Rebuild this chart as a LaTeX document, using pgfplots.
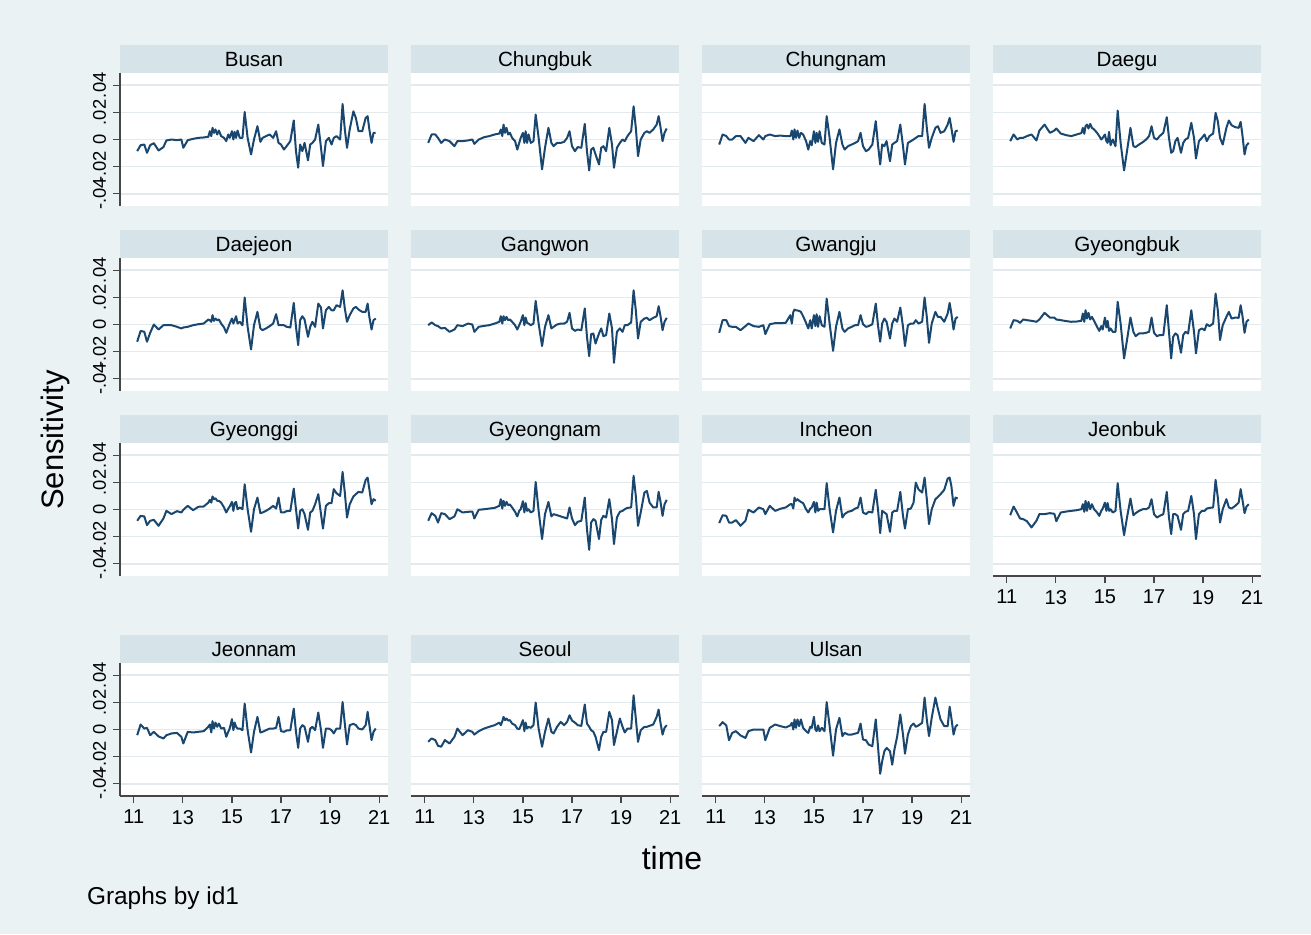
\documentclass[border=0pt]{standalone}
\usepackage{fontspec}
\setmainfont{Liberation Sans}
\usepackage{pgfplots}
\usepackage{pgfplotstable}
\pgfplotsset{compat=1.18}
\definecolor{bgc}{RGB}{234,242,243}
\definecolor{barc}{RGB}{214,227,232}
\definecolor{gridc}{RGB}{226,234,237}
\definecolor{linec}{RGB}{26,71,111}
\definecolor{axc}{RGB}{70,70,70}

\pgfplotstableread{
t Bu Cb Cn Dg Dj Gw Gj Gb Gg Gn Ic Jb Jn Se Us
11.14 -0.0086 -0.0025 -0.0037 -0.0012 -0.0127 -0.0005 -0.0061 -0.0029 -0.0083 -0.0083 -0.0100 -0.0042 -0.0042 -0.0091 0.0025
11.28 -0.0042 0.0037 0.0037 0.0037 -0.0047 0.0015 0.0032 0.0032 -0.0047 -0.0027 -0.0042 0.0022 0.0037 -0.0066 0.0054
11.43 -0.0037 0.0037 0.0025 0 -0.0054 -0.0005 0.0032 0.0027 -0.0051 -0.0047 -0.0047 -0.0027 0.0007 -0.0078 0.0030
11.54 -0.0098 0.0012 0 0.0012 -0.0127 -0.0012 -0.0012 0.0012 -0.0115 -0.0096 -0.0096 -0.0066 0.0012 -0.0120 -0.0079
11.67 -0.0042 -0.0025 0 0.0012 -0.0061 -0.0029 -0.0017 0.0037 -0.0083 -0.0027 -0.0096 -0.0071 -0.0042 -0.0127 -0.0025
11.82 -0.0027 0 0.0025 0.0025 0 -0.0025 -0.0017 0.0032 -0.0076 -0.0034 -0.0078 -0.0086 -0.0017 -0.0078 -0.0012
12.01 -0.0081 -0.0012 0.0025 0.0037 -0.0037 -0.0054 -0.0042 0.0027 -0.0120 -0.0071 -0.0120 -0.0132 -0.0051 -0.0103 -0.0044
12.21 -0.0056 -0.0049 -0.0025 -0.0007 -0.0005 -0.0037 -0.0012 0.0020 -0.0066 -0.0051 -0.0083 -0.0083 -0.0066 -0.0054 -0.0062
12.33 -0.0007 -0.0012 0.0012 0.0066 -0.0005 -0.0005 0.0007 0.0037 -0.0010 0.0002 -0.0002 -0.0034 -0.0042 0.0007 -0.0012
12.54 0 -0.0012 -0.0012 0.0110 -0.0005 -0.0012 -0.0012 0.0086 -0.0034 -0.0022 -0.0022 -0.0034 -0.0029 -0.0042 0
12.76 -0.0005 -0.0007 0.0032 0.0049 -0.0017 0.0007 -0.0017 0.0051 -0.0012 -0.0017 0.0015 -0.0027 -0.0025 -0.0005 0
12.94 0 0 0 0.0066 -0.0029 0 -0.0005 0.0051 -0.0022 -0.0015 0.0002 -0.0032 -0.0054 -0.0017 0
13.02 -0.0061 -0.0032 0.0025 0.0081 -0.0022 -0.0054 -0.0071 0.0037 -0.0002 -0.0066 -0.0034 -0.0086 -0.0103 -0.0037 -0.0079
13.20 -0.0005 0 0.0037 0.0044 -0.0017 -0.0017 0.0002 0.0032 0.0027 -0.0002 0.0027 -0.0022 -0.0017 -0.0012 0.0012
13.42 0.0005 0.0017 0.0025 0.0032 -0.0005 -0.0010 0.0010 0.0025 -0.0005 0.0002 -0.0010 -0.0015 -0.0022 0.0007 0.0037
13.63 0.0012 0.0025 0.0029 0.0025 0.0002 -0.0005 0.0010 0.0020 0.0020 0.0007 0.0005 -0.0010 -0.0017 0.0020 0.0025
13.85 0.0015 0.0037 0.0025 0.0037 0.0007 0.0007 0.0012 0.0022 0.0022 0.0012 0.0015 -0.0005 -0.0012 0.0032 0.0015
14.04 0.0020 0.0044 0.0025 0.0047 0.0037 0.0020 0.0069 0.0027 0.0051 0.0027 0.0039 0.0002 0.0020 0.0051 0.0030
14.10 0.0061 0.0074 0.0066 0.0086 0.0032 0.0061 0.0007 0.0081 0.0071 0.0076 0.0039 0.0039 0.0037 0.0032 0.0049
14.16 0.0025 0.0025 0 0.0042 0.0020 0.0007 0.0093 0.0020 0.0051 0.0007 0.0007 -0.0017 -0.0022 0.0061 0
14.21 0.0086 0.0110 0.0074 0.0098 0.0069 0.0061 0.0110 0.0105 0.0096 0.0064 0.0088 0.0064 0.0061 0.0093 0.0074
14.27 0.0049 0.0049 0.0012 0.0110 0.0027 0.0032 0.0105 0.0044 0.0076 0.0027 0.0064 -0.0010 0.0007 0.0069 0.0012
14.33 0.0074 0.0086 0.0066 0.0081 0.0044 0.0056 0.0103 0.0086 0.0083 0.0056 0.0076 0.0056 0.0051 0.0081 0.0074
14.40 0.0037 0.0037 0.0012 0.0115 0.0032 0.0032 0.0100 0.0037 0.0064 0.0032 0.0064 0.0002 0.0020 0.0066 0.0025
14.47 0.0066 0.0049 0.0049 0.0086 0.0037 0.0037 0.0093 0.0056 0.0064 0.0037 0.0056 0.0039 0.0044 0.0069 0.0074
14.56 0.0025 0.0012 0.0037 0.0074 0.0007 0.0020 0.0061 0.0027 0.0051 0.0015 0.0047 0.0002 0.0007 0.0044 0.0012
14.68 0.0012 -0.0012 -0.0012 0.0049 -0.0022 -0.0005 0.0012 -0.0017 0.0015 -0.0017 0.0002 -0.0022 0.0012 0.0032 -0.0012
14.77 -0.0012 -0.0074 -0.0074 0.0025 -0.0061 -0.0037 -0.0029 -0.0047 -0.0022 -0.0051 -0.0022 -0.0047 -0.0054 0.0007 -0.0025
14.85 0.0037 -0.0025 -0.0012 0 -0.0022 -0.0005 0.0032 -0.0012 0.0007 -0.0010 0.0007 -0.0010 -0.0017 0.0002 0.0020
14.91 0.0012 0.0012 -0.0042 0.0012 0.0007 0.0020 -0.0029 -0.0037 0.0022 0.0002 0.0015 0.0007 0.0007 0.0027 0.0012
15.00 0.0061 0.0049 0.0061 0.0037 0.0044 0.0069 0.0069 0.0051 0.0056 0.0061 0.0056 0.0051 0.0076 0.0069 0.0094
15.06 0 -0.0025 -0.0025 -0.0012 0.0007 -0.0005 -0.0012 -0.0022 -0.0010 -0.0022 -0.0022 -0.0010 -0.0005 -0.0012 0
15.11 0.0056 0.0061 0.0049 -0.0025 0.0032 0.0051 0.0076 0.0027 0.0047 0.0047 0.0051 0.0047 0.0051 0.0051 -0.0012
15.17 0.0012 -0.0025 -0.0017 0.0056 0.0061 0.0012 -0.0017 -0.0047 0.0056 -0.0010 -0.0010 -0.0010 0.0020 0.0007 0.0030
15.23 0.0066 0.0037 0.0061 -0.0042 0.0007 0.0007 0.0061 -0.0029 0.0002 0.0002 0.0002 0.0002 0.0007 0.0020 -0.0012
15.32 0.0012 -0.0025 -0.0025 0 0.0020 -0.0005 -0.0005 -0.0054 0.0015 -0.0022 0.0002 -0.0022 0.0007 0.0012 0.0012
15.43 0.0012 -0.0012 -0.0037 -0.0049 -0.0005 0.0007 -0.0017 -0.0054 0.0002 -0.0010 0.0002 -0.0010 -0.0005 0.0032 -0.0012
15.52 0.0203 0.0184 0.0172 0.0213 0.0199 0.0174 0.0191 0.0167 0.0186 0.0203 0.0194 0.0194 0.0191 0.0199 0.0202
15.64 0.0012 0.0012 0.0012 -0.0025 -0.0017 0.0007 0.0007 0.0007 0.0002 -0.0010 0.0002 -0.0010 -0.0005 0.0007 0.0025
15.78 -0.0110 -0.0220 -0.0220 -0.0228 -0.0184 -0.0159 -0.0194 -0.0250 -0.0164 -0.0218 -0.0169 -0.0189 -0.0169 -0.0127 -0.0193
15.90 0 -0.0061 -0.0025 -0.0086 -0.0005 -0.0017 -0.0017 -0.0115 0.0002 -0.0034 -0.0010 -0.0059 -0.0017 -0.0017 0
16.04 0.0098 0.0086 0.0074 0.0086 0.0093 0.0069 0.0093 0.0051 0.0088 0.0056 0.0088 0.0081 0.0093 0.0081 0.0086
16.16 -0.0017 -0.0025 -0.0037 -0.0049 -0.0029 -0.0029 -0.0029 -0.0054 -0.0027 -0.0051 -0.0059 -0.0042 -0.0022 -0.0017 -0.0049
16.25 0.0012 -0.0049 -0.0074 -0.0056 -0.0042 -0.0017 -0.0054 -0.0086 -0.0022 -0.0034 -0.0034 -0.0027 -0.0017 -0.0029 -0.0025
16.39 0.0025 -0.0025 -0.0049 -0.0037 -0.0029 0 -0.0029 -0.0066 -0.0010 -0.0042 -0.0017 -0.0010 -0.0005 0.0020 -0.0037
16.54 0.0037 -0.0025 -0.0037 -0.0020 -0.0012 0.0007 -0.0017 -0.0066 0.0007 -0.0051 -0.0010 0.0002 0.0007 0.0056 -0.0037
16.68 0.0012 -0.0017 -0.0025 0 0.0007 0.0007 -0.0005 -0.0061 0.0027 -0.0059 0.0007 0.0002 0.0007 0.0032 -0.0030
16.80 0.0061 0.0012 -0.0012 0.0025 0.0076 0.0020 -0.0005 -0.0054 0.0007 -0.0066 0.0015 0.0015 0.0012 0.0056 -0.0025
16.90 -0.0025 0.0061 0.0049 0.0098 -0.0005 0.0086 0.0069 0.0051 0.0088 0.0015 0.0088 0.0076 0.0093 0.0105 0.0044
17.00 -0.0037 -0.0049 -0.0049 0.0012 -0.0005 -0.0029 0.0002 -0.0061 -0.0022 -0.0066 -0.0022 -0.0034 -0.0012 0.0066 -0.0074
17.12 -0.0074 -0.0086 -0.0086 0 -0.0005 -0.0047 -0.0017 -0.0086 -0.0022 -0.0115 -0.0034 -0.0059 -0.0017 0.0051 -0.0079
17.23 -0.0049 -0.0056 -0.0074 0.0025 -0.0017 -0.0037 -0.0012 -0.0078 -0.0012 -0.0091 -0.0017 -0.0047 -0.0007 0.0032 -0.0111
17.38 -0.0012 -0.0061 -0.0037 0.0049 -0.0022 -0.0042 0.0002 -0.0078 -0.0010 -0.0083 -0.0022 -0.0034 -0.0005 0.0027 -0.0123
17.52 0.0140 0.0115 0.0135 0.0164 0.0159 0.0118 0.0154 0.0142 0.0154 0.0088 0.0145 0.0130 0.0154 0.0184 0.0074
17.61 -0.0086 -0.0086 -0.0037 0.0012 -0.0017 -0.0091 -0.0005 -0.0054 0.0002 -0.0145 0.0002 -0.0059 -0.0017 0.0044 -0.0123
17.70 -0.0208 -0.0228 -0.0184 -0.0098 -0.0152 -0.0233 -0.0127 -0.0250 -0.0140 -0.0297 -0.0174 -0.0181 -0.0135 0.0020 -0.0326
17.78 -0.0037 -0.0074 -0.0037 -0.0086 0.0032 -0.0071 0.0007 -0.0091 -0.0010 -0.0096 -0.0010 -0.0034 0.0007 -0.0005 -0.0235
17.87 -0.0086 -0.0061 -0.0049 -0.0012 0.0061 -0.0066 0.0044 -0.0066 0.0002 -0.0071 -0.0022 -0.0034 0.0032 -0.0017 -0.0160
17.96 -0.0025 -0.0110 -0.0012 0.0012 0.0037 -0.0140 0.0020 -0.0078 -0.0034 -0.0083 -0.0034 -0.0047 0.0020 -0.0054 -0.0136
18.10 -0.0154 -0.0184 -0.0160 -0.0098 -0.0091 -0.0066 -0.0103 -0.0208 -0.0150 -0.0218 -0.0164 -0.0150 -0.0091 -0.0152 -0.0160
18.19 -0.0037 -0.0061 -0.0037 -0.0025 -0.0017 -0.0029 0.0007 -0.0078 -0.0022 -0.0076 -0.0022 -0.0034 0.0007 -0.0054 -0.0259
18.28 -0.0025 -0.0049 -0.0025 0 0.0020 -0.0086 0.0044 -0.0054 -0.0010 -0.0047 -0.0010 -0.0017 0.0020 -0.0017 -0.0148
18.39 0 -0.0086 -0.0012 0.0012 -0.0017 -0.0078 0.0020 -0.0066 0.0039 -0.0059 -0.0010 -0.0010 -0.0005 -0.0017 -0.0054
18.52 0.0110 0.0086 0.0110 0.0123 0.0154 0.0081 0.0125 0.0105 0.0113 0.0076 0.0130 0.0100 0.0125 0.0130 0.0111
18.63 -0.0061 -0.0037 -0.0049 0.0012 0.0125 -0.0029 -0.0017 -0.0054 -0.0034 -0.0071 -0.0047 -0.0034 -0.0005 0.0069 -0.0037
18.71 -0.0196 -0.0208 -0.0184 -0.0140 -0.0029 -0.0282 -0.0159 -0.0213 -0.0140 -0.0255 -0.0140 -0.0218 -0.0135 -0.0115 -0.0178
18.83 -0.0012 -0.0061 -0.0025 -0.0012 0.0105 -0.0054 -0.0005 -0.0042 0.0027 -0.0059 0.0002 -0.0034 0.0007 -0.0017 -0.0037
18.95 0.0012 -0.0025 -0.0012 0.0012 0.0130 -0.0029 0.0007 -0.0029 0.0047 -0.0017 0.0007 -0.0010 0.0007 0.0081 0.0025
19.06 -0.0037 0 0 0.0037 0.0105 -0.0054 0.0007 -0.0042 0.0047 -0.0010 0.0051 -0.0010 -0.0005 0.0020 0.0044
19.15 0.0012 -0.0012 0.0012 -0.0012 0.0105 -0.0005 0.0032 0.0002 0.0150 0.0002 0.0198 0.0007 -0.0029 -0.0022 0.0020
19.26 0.0025 0.0025 0.0025 0.0025 0.0142 -0.0005 0.0007 -0.0012 0.0120 0.0012 0.0149 0.0012 0.0007 0.0007 0.0030
19.41 0 0.0061 0.0025 0.0044 0.0130 0.0015 0.0020 0.0007 0.0100 0.0015 0.0125 0.0015 0.0007 0.0007 0.0049
19.51 0.0262 0.0245 0.0262 0.0196 0.0252 0.0252 0.0199 0.0228 0.0277 0.0248 0.0235 0.0218 0.0203 0.0252 0.0235
19.60 0.0074 0.0086 0.0086 0.0135 0.0118 0.0105 0.0056 0.0105 0.0125 0.0100 0.0076 0.0088 0.0044 0.0081 0.0074
19.69 -0.0061 -0.0123 -0.0061 0.0012 0.0020 -0.0103 -0.0135 -0.0115 -0.0059 -0.0120 -0.0108 -0.0096 -0.0110 -0.0091 -0.0049
19.80 0.0074 0 0.0012 -0.0037 0.0069 0.0020 0.0007 -0.0005 0.0039 -0.0022 0.0002 0.0002 0.0032 -0.0005 0.0086
19.95 0.0208 0.0049 0.0086 0.0086 0.0118 0.0044 0.0093 0.0056 0.0096 0.0125 0.0076 0.0076 0.0042 0.0020 0.0235
20.05 0.0159 0.0061 0.0098 0.0140 0.0130 0.0049 0.0056 0.0093 0.0113 0.0137 0.0093 0.0015 0.0032 0.0020 0.0153
20.16 0.0061 0.0049 0.0049 0.0105 0.0110 0.0032 0.0056 0.0044 0.0130 0.0051 0.0113 0.0007 0.0007 0.0027 0.0074
20.31 0.0061 0.0074 0.0061 0.0091 0.0093 0.0049 0.0020 0.0051 0.0125 0.0015 0.0145 0.0027 0 0.0037 0.0025
20.45 0.0159 0.0110 0.0110 0.0086 0.0093 0.0061 0.0081 0.0049 0.0218 0.0015 0.0228 0.0051 0.0032 0.0093 0.0025
20.53 0.0172 0.0172 0.0159 0.0130 0.0154 0.0135 0.0159 0.0142 0.0235 0.0130 0.0235 0.0150 0.0130 0.0147 0.0168
20.60 0.0074 0.0098 0.0086 0.0037 0.0056 0.0069 0.0081 0.0069 0.0150 0.0064 0.0174 0.0076 0.0037 0.0056 0.0086
20.69 -0.0025 -0.0012 -0.0017 -0.0110 -0.0037 -0.0042 -0.0037 -0.0061 0.0039 -0.0047 0.0027 -0.0027 -0.0078 -0.0037 -0.0037
20.77 0.0049 0.0049 0.0061 -0.0042 0.0032 0.0020 0.0044 0.0020 0.0076 0.0039 0.0088 0.0022 -0.0017 0.0012 0.0020
20.86 0.0049 0.0081 0.0066 -0.0025 0.0044 0.0049 0.0056 0.0037 0.0064 0.0071 0.0081 0.0039 0.0007 0.0032 0.0037
}\data

\pgfplotsset{
  panel/.style={
    scale only axis, width=134pt, height=66.5pt,
    xmin=10.44, xmax=21.36, ymin=-0.049, ymax=0.049,
    axis x line=bottom, axis y line=left,
    x axis line style={draw=none,-}, y axis line style={draw=none,-},
    xtick={11,13,15,17,19,21}, ytick={-0.04,-0.02,0,0.02,0.04},
    xticklabels={}, yticklabels={},
    xtick style={draw=none}, ytick style={draw=none},
    tick align=outside, major tick length=3.5pt,
    ymajorgrids, grid style={gridc, line width=0.8pt},
    axis background/.style={fill=white},
    every axis title/.style={at={(0.5,1)}, anchor=south, fill=barc,
      minimum width=134pt, minimum height=13.75pt, inner sep=0pt,
      text height=7.4pt, text depth=0pt, font=\fontsize{10.3}{12}\selectfont},
    xticklabel style={font=\fontsize{10}{12}\selectfont},
    /pgf/number format/assume math mode=true,
    scaled y ticks=false,
  },
  yax/.style={
    y axis line style={draw=axc, line width=0.6pt},
    ytick style={draw=axc, line width=0.6pt},
    yticklabels={-.04,-.02,0,.02,.04},
    yticklabel style={rotate=90, anchor=south, font=\fontsize{9.2}{11}\selectfont},
  },
  xax/.style={
    x axis line style={draw=axc, line width=0.6pt},
    xtick style={draw=axc, line width=0.6pt},
    xticklabels={11,13,15,17,19,21},
  },
  ser/.style={linec, line width=1pt, line join=round, no markers},
}

\begin{document}
\begin{tikzpicture}
\fill[bgc] (0,0) rectangle (655.5pt,467pt);
\useasboundingbox (0,0) rectangle (655.5pt,467pt);

% row 1
\begin{axis}[panel, yax, at={(60pt,364pt)}, anchor=south west, title={Busan}]
\addplot[ser] table[x=t,y=Bu]{\data};
\end{axis}
\begin{axis}[panel, at={(205.5pt,364pt)}, anchor=south west, title={Chungbuk}]
\addplot[ser] table[x=t,y=Cb]{\data};
\end{axis}
\begin{axis}[panel, at={(351pt,364pt)}, anchor=south west, title={Chungnam}]
\addplot[ser] table[x=t,y=Cn]{\data};
\end{axis}
\begin{axis}[panel, at={(496.5pt,364pt)}, anchor=south west, title={Daegu}]
\addplot[ser] table[x=t,y=Dg]{\data};
\end{axis}

% row 2
\begin{axis}[panel, yax, at={(60pt,271.5pt)}, anchor=south west, title={Daejeon}]
\addplot[ser] table[x=t,y=Dj]{\data};
\end{axis}
\begin{axis}[panel, at={(205.5pt,271.5pt)}, anchor=south west, title={Gangwon}]
\addplot[ser] table[x=t,y=Gw]{\data};
\end{axis}
\begin{axis}[panel, at={(351pt,271.5pt)}, anchor=south west, title={Gwangju}]
\addplot[ser] table[x=t,y=Gj]{\data};
\end{axis}
\begin{axis}[panel, at={(496.5pt,271.5pt)}, anchor=south west, title={Gyeongbuk}]
\addplot[ser] table[x=t,y=Gb]{\data};
\end{axis}

% row 3
\begin{axis}[panel, yax, at={(60pt,179pt)}, anchor=south west, title={Gyeonggi}]
\addplot[ser] table[x=t,y=Gg]{\data};
\end{axis}
\begin{axis}[panel, at={(205.5pt,179pt)}, anchor=south west, title={Gyeongnam}]
\addplot[ser] table[x=t,y=Gn]{\data};
\end{axis}
\begin{axis}[panel, at={(351pt,179pt)}, anchor=south west, title={Incheon}]
\addplot[ser] table[x=t,y=Ic]{\data};
\end{axis}
\begin{axis}[panel, xax, at={(496.5pt,179pt)}, anchor=south west, title={Jeonbuk}]
\addplot[ser] table[x=t,y=Jb]{\data};
\end{axis}

% row 4
\begin{axis}[panel, yax, xax, at={(60pt,69pt)}, anchor=south west, title={Jeonnam}]
\addplot[ser] table[x=t,y=Jn]{\data};
\end{axis}
\begin{axis}[panel, xax, at={(205.5pt,69pt)}, anchor=south west, title={Seoul}]
\addplot[ser] table[x=t,y=Se]{\data};
\end{axis}
\begin{axis}[panel, xax, at={(351pt,69pt)}, anchor=south west, title={Ulsan}]
\addplot[ser] table[x=t,y=Us]{\data};
\end{axis}

\node[rotate=90, font=\fontsize{15.5}{18}\selectfont] at (27.5pt,247pt) {Sensitivity};
\node[font=\fontsize{16}{19}\selectfont] at (336pt,38pt) {time};
\node[anchor=west, font=\fontsize{12.2}{14}\selectfont] at (40pt,18pt) {Graphs by id1};
\end{tikzpicture}
\end{document}
